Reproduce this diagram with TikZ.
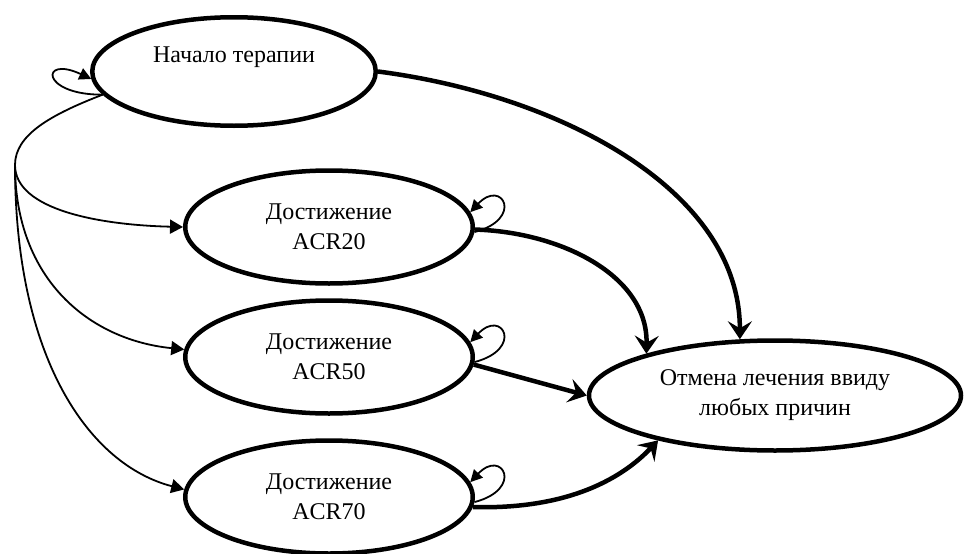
\documentclass[tikz,border=0pt]{standalone}
\usepackage{fontspec}
\setmainfont{Liberation Serif}
\usetikzlibrary{arrows.meta,shapes.geometric}
\begin{document}
\begin{tikzpicture}[x=1pt,y=-1pt,
  state/.style={ellipse,draw,line width=4.5pt,inner sep=0pt,align=center,
    font=\fontsize{24}{30}\selectfont},
  astate/.style={state,minimum width=287.5pt,minimum height=113pt},
  lbl/.style={inner sep=0pt,font=\fontsize{24}{30}\selectfont},
  bigarrow/.style={line width=4.5pt,-{Stealth[length=18pt,width=24pt,inset=7pt]}},
  thinarrow/.style={line width=1.8pt,-{Triangle[length=13pt,width=14pt]}},
  thinline/.style={line width=1.8pt},
  looparrow/.style={line width=1.8pt,-{Triangle[length=12pt,width=12pt]}},
]
\useasboundingbox (0,0) rectangle (964,554);

% nodes
\node[state,minimum width=283.5pt,minimum height=108.5pt] (start) at (234,71.5) {};
\node[lbl] (startlabel) at (234,57) {Начало терапии};
\node[astate] (a20) at (329,227) {Достижение\\ACR20};
\node[astate] (a50) at (329,357) {Достижение\\ACR50};
\node[astate] (a70) at (329,497) {Достижение\\ACR70};
\node[state,minimum width=372pt,minimum height=110pt] (stop) at (775,395.5)
  {Отмена лечения ввиду\\любых причин};

% thick connectors to the end state
\draw[bigarrow] (start.east) .. controls (560,95) and (740,190) .. (stop.122);
\draw[bigarrow] (a20.-1) .. controls (560,232) and (648,275) .. (stop.162);
\draw[bigarrow] (a50.-3) -- (stop.west);
\draw[bigarrow] (a70.-4) .. controls (580,510) and (630,470) .. (stop.201);

% self loops
\draw[looparrow] (start.190) .. controls (40,95) and (40,55) .. (start.183);
\draw[looparrow] (a20.-2) .. controls +(50,-13) and +(32,-34) .. (a20.6);
\draw[looparrow] (a50.-2) .. controls +(50,-13) and +(32,-34) .. (a50.6);
\draw[looparrow] (a70.-2) .. controls +(50,-13) and +(32,-34) .. (a70.6);

% branches from the start state
\coordinate (fork) at (15,165);
\draw[thinline] (start.190) .. controls (50,115) and (15,135) .. (fork);
\draw[thinarrow] (fork) .. controls (15,210) and (100,225) .. (a20.west);
\draw[thinarrow] (fork) .. controls (15,280) and (90,340) .. (a50.177);
\draw[thinarrow] (fork) .. controls (15,360) and (90,465) .. (a70.177);
\end{tikzpicture}
\end{document}
